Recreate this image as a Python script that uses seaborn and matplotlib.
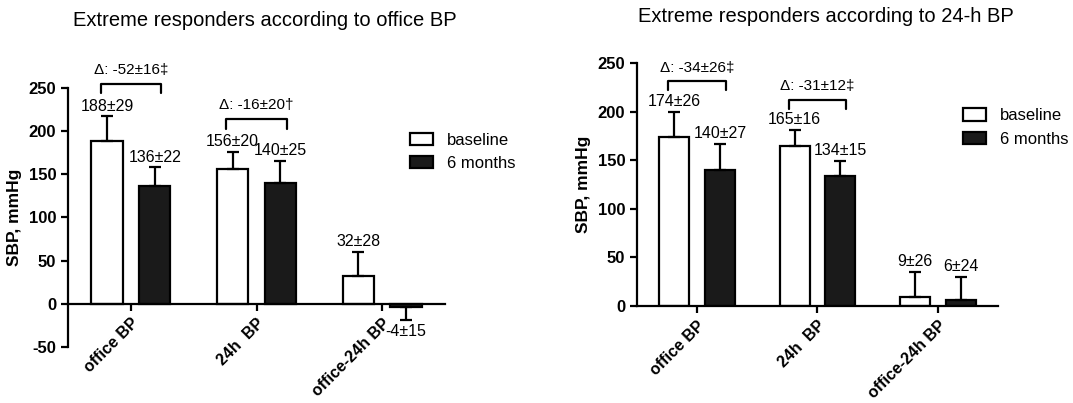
import numpy as np
import pandas as pd
import matplotlib
matplotlib.use("Agg")
import matplotlib.pyplot as plt
import seaborn as sns

categories = ['office BP', '24h  BP', 'office-24h BP']
periods = ['baseline', '6 months']

# extreme responders according to office BP
office_base_mean = [188, 156, 32]
office_base_sd = [29, 20, 28]
office_6m_mean = [136, 140, -4]
office_6m_sd = [22, 25, 15]
office_delta = ['Δ: -52±16‡', 'Δ: -16±20†']

# extreme responders according to 24-h BP
amb_base_mean = [174, 165, 9]
amb_base_sd = [26, 16, 26]
amb_6m_mean = [140, 134, 6]
amb_6m_sd = [27, 15, 24]
amb_delta = ['Δ: -34±26‡', 'Δ: -31±12‡']

sns.set_style("ticks")
plt.rcParams['font.family'] = ['Liberation Sans', 'DejaVu Sans']
plt.rcParams['axes.unicode_minus'] = False
for key in ['text.color', 'axes.labelcolor', 'xtick.color', 'ytick.color', 'axes.edgecolor']:
    plt.rcParams[key] = 'black'


def make_df(base_mean, base_sd, m6_mean, m6_sd):
    df = pd.DataFrame({
        'category': categories * 2,
        'period': [periods[0]] * 3 + [periods[1]] * 3,
        'mean': base_mean + m6_mean,
        'sd': base_sd + m6_sd,
    })
    return df


def draw_panel(ax, df, deltas, ylim, yticks, bracket_off, leg_xy):
    sns.barplot(data=df, x='category', y='mean', hue='period', order=categories,
                hue_order=periods, palette=['white', '#1a1a1a'], edgecolor='black',
                linewidth=1.6, width=0.76, gap=0.34, errorbar=None, legend=False, ax=ax)
    tops = {}
    for k, cont in enumerate(ax.containers[:2]):
        sub = df[df['period'] == periods[k]].set_index('category').loc[categories]
        for j, bar in enumerate(cont.patches):
            m, s = sub['mean'].iloc[j], sub['sd'].iloc[j]
            xc = bar.get_x() + bar.get_width() / 2
            yerr = [[0], [s]] if m >= 0 else [[s], [0]]
            ax.errorbar(xc, m, yerr=yerr, fmt='none', ecolor='black', elinewidth=1.6,
                        capsize=4.5, capthick=1.6, zorder=1)
            lab = f'{m}±{s}'
            if m >= 0:
                ax.annotate(lab, (xc, m + s), xytext=(0, 2), textcoords='offset points',
                            ha='center', va='bottom', fontsize=11.5)
            else:
                ax.annotate(lab, (xc, m - s), xytext=(0, -3), textcoords='offset points',
                            ha='center', va='top', fontsize=11.5)
            tops.setdefault(j, []).append((xc, m + s))
    # delta brackets between baseline and 6 months
    for j, txt in enumerate(deltas):
        (x0, t0), (x1, t1) = tops[j]
        yb = max(t0, t1) + bracket_off
        leg = bracket_off * 0.3
        xa, xb = x0 - 0.05, x1 + 0.05
        ax.plot([xa, xa, xb, xb], [yb - leg, yb, yb, yb - leg], color='black', lw=1.6,
                clip_on=False)
        ax.annotate(txt, ((xa + xb) / 2, yb), xytext=(0, 5), textcoords='offset points',
                    ha='center', va='bottom', fontsize=11, annotation_clip=False)

    ax.set_ylim(*ylim)
    ax.set_yticks(yticks)
    ax.set_xlim(-0.5, 2.5)
    sns.despine(ax=ax)
    ax.spines['bottom'].set_position(('data', 0))
    for sp in ['left', 'bottom']:
        ax.spines[sp].set_linewidth(1.6)
    ax.tick_params(axis='both', width=1.6, length=5, labelsize=12)
    for t in ax.get_yticklabels():
        t.set_fontweight('bold')
    ax.set_xticks(range(3))
    ax.set_xticklabels(categories, rotation=45, ha='right', rotation_mode='anchor',
                       fontweight='bold', fontsize=11.5)
    ax.set_xlabel('')
    ax.set_ylabel('SBP, mmHg', fontweight='bold', fontsize=12.5, labelpad=5)
    ax.legend(ax.containers[:2], periods, loc='center left', bbox_to_anchor=leg_xy,
              frameon=False, fontsize=12, handlelength=1.4, handleheight=0.75,
              handletextpad=0.8, labelspacing=0.5, borderpad=0, borderaxespad=0)


fig = plt.figure(figsize=(10.73, 4.03), dpi=100)
ax1 = fig.add_axes([0.0634, 0.139, 0.3513, 0.643])
ax2 = fig.add_axes([0.5937, 0.2407, 0.3363, 0.603])

draw_panel(ax1, make_df(office_base_mean, office_base_sd, office_6m_mean, office_6m_sd),
           office_delta, (-50, 250), range(-50, 251, 50), 38, (0.907, 0.753))
draw_panel(ax2, make_df(amb_base_mean, amb_base_sd, amb_6m_mean, amb_6m_sd),
           amb_delta, (0, 250), range(0, 251, 50), 31, (0.903, 0.735))

fig.text(0.247, 0.95, 'Extreme responders according to office BP', ha='center',
         va='center', fontsize=14.5)
fig.text(0.77, 0.958, 'Extreme responders according to 24-h BP', ha='center',
         va='center', fontsize=14.5)

fig.savefig('out.png', dpi=100)
